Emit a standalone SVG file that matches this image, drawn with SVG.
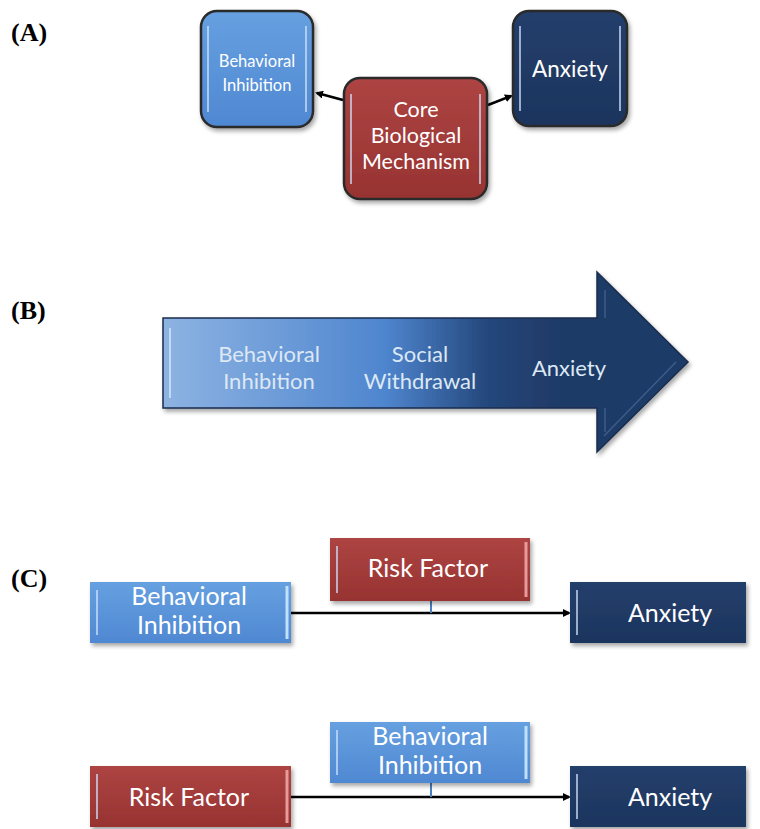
<svg xmlns="http://www.w3.org/2000/svg" width="760" height="829" viewBox="0 0 760 829">
<defs>
<style>
.lbl{font-family:"Liberation Serif","Times New Roman",serif;font-weight:bold;font-size:26px;fill:#000}
.t{font-family:Lato,"Liberation Sans",sans-serif;fill:#fff;text-anchor:middle}
.tb{font-family:Lato,"Liberation Sans",sans-serif;fill:#dde8f5;text-anchor:middle;font-size:22px}
.hl{stroke:#cfe3fb;stroke-width:2;stroke-opacity:0.7;fill:none}
.conn{stroke:#000;stroke-width:2.5;fill:none}
</style>
<filter id="sh" x="-10%" y="-10%" width="130%" height="130%">
<feDropShadow dx="2" dy="3" stdDeviation="2" flood-color="#000" flood-opacity="0.35"/>
</filter>
<linearGradient id="gB" x1="0" y1="0" x2="1" y2="0">
<stop offset="0" stop-color="#8db3e2"/>
<stop offset="0.42" stop-color="#4f86cf"/>
<stop offset="0.62" stop-color="#24477c"/>
<stop offset="0.75" stop-color="#1f3a66"/>
<stop offset="1" stop-color="#1f3a66"/>
</linearGradient>
<linearGradient id="gLB" x1="0" y1="0" x2="0" y2="1">
<stop offset="0" stop-color="#66a0e0"/>
<stop offset="1" stop-color="#4f88d2"/>
</linearGradient>
<linearGradient id="gR" x1="0" y1="0" x2="0" y2="1">
<stop offset="0" stop-color="#ad4443"/>
<stop offset="1" stop-color="#973331"/>
</linearGradient>
<linearGradient id="gN" x1="0" y1="0" x2="0" y2="1">
<stop offset="0" stop-color="#243f6b"/>
<stop offset="1" stop-color="#1c355e"/>
</linearGradient>
<marker id="ah" markerWidth="8" markerHeight="8" refX="6" refY="4" orient="auto" markerUnits="userSpaceOnUse">
<path d="M0,0 L8,4 L0,8 Z" fill="#000"/>
</marker>
</defs>
<rect width="760" height="829" fill="#fff"/>

<text class="lbl" x="11" y="41">(A)</text>
<text class="lbl" x="11" y="319">(B)</text>
<text class="lbl" x="11" y="587">(C)</text>

<g id="connectors">
<line class="conn" x1="343" y1="100" x2="317" y2="93" marker-end="url(#ah)"/>
<line class="conn" x1="488" y1="105" x2="511" y2="96" marker-end="url(#ah)"/>
<line class="conn" x1="291" y1="613" x2="569" y2="613" marker-end="url(#ah)"/>
<line x1="431" y1="601" x2="431" y2="613" stroke="#4a7fc0" stroke-width="2"/>
<line class="conn" x1="291" y1="797" x2="569" y2="797" marker-end="url(#ah)"/>
<line x1="431" y1="783" x2="431" y2="797" stroke="#4a7fc0" stroke-width="2"/>
</g>

<g id="a-bi">
<rect x="201" y="11" width="112" height="116" rx="16" fill="url(#gLB)" stroke="#2b2b2b" stroke-width="2.5" filter="url(#sh)"/>
<line class="hl" x1="208" y1="26" x2="208" y2="112"/>
<line class="hl" x1="306" y1="26" x2="306" y2="112"/>
<text class="t" font-size="16.5" x="257" y="67">Behavioral</text>
<text class="t" font-size="16.5" x="257" y="91">Inhibition</text>
</g>
<g id="a-core">
<rect x="344" y="78" width="143" height="121" rx="16" fill="url(#gR)" stroke="#2b2b2b" stroke-width="2.5" filter="url(#sh)"/>
<line class="hl" x1="351" y1="94" x2="351" y2="184" stroke="#f0b0b0"/>
<line class="hl" x1="480" y1="94" x2="480" y2="184" stroke="#f0b0b0"/>
<text class="t" font-size="21.5" x="416" y="117">Core</text>
<text class="t" font-size="21.5" x="416" y="143">Biological</text>
<text class="t" font-size="21.5" x="416" y="169">Mechanism</text>
</g>
<g id="a-anx">
<rect x="513" y="11" width="114" height="115" rx="16" fill="url(#gN)" stroke="#2b2b2b" stroke-width="2.5" filter="url(#sh)"/>
<line class="hl" x1="520" y1="26" x2="520" y2="111" stroke="#6f8fbf"/>
<line class="hl" x1="620" y1="26" x2="620" y2="111" stroke="#6f8fbf"/>
<text class="t" font-size="22.5" x="570" y="77">Anxiety</text>
</g>

<g id="b-arrow">
<path d="M163,318 L597,318 L597,272 L688,362 L597,452 L597,408 L163,408 Z" fill="url(#gB)" stroke="#1a2d4d" stroke-width="1.5" filter="url(#sh)"/>
<line x1="170" y1="328" x2="170" y2="398" stroke="#cfe3fb" stroke-width="2" stroke-opacity="0.8"/>
<path d="M605,290 L605,318 M605,408 L605,432 M604,436 L676,362" stroke="#4a6a9a" stroke-width="1.5" fill="none" stroke-opacity="0.7"/>
<text class="tb" x="269" y="362">Behavioral</text>
<text class="tb" x="269" y="389">Inhibition</text>
<text class="tb" x="420" y="362">Social</text>
<text class="tb" x="420" y="389">Withdrawal</text>
<text class="tb" x="569" y="376">Anxiety</text>
</g>

<g id="c1-bi">
<rect x="90" y="582" width="201" height="61" fill="url(#gLB)" filter="url(#sh)"/>
<line class="hl" x1="97" y1="590" x2="97" y2="635"/>
<line x1="287" y1="586" x2="287" y2="639" stroke="#bfe0ff" stroke-width="3"/>
<text class="t" font-size="25" x="189" y="605">Behavioral</text>
<text class="t" font-size="25" x="189" y="634">Inhibition</text>
</g>
<g id="c1-risk">
<rect x="330" y="538" width="200" height="63" fill="url(#gR)" filter="url(#sh)"/>
<line class="hl" x1="337" y1="546" x2="337" y2="593" stroke="#f0b0b0"/>
<line x1="526" y1="542" x2="526" y2="597" stroke="#e89a9a" stroke-width="3"/>
<text class="t" font-size="25" x="428" y="577">Risk Factor</text>
</g>
<g id="c1-anx">
<rect x="570" y="582" width="176" height="61" fill="url(#gN)" filter="url(#sh)"/>
<line class="hl" x1="577" y1="590" x2="577" y2="635" stroke="#6f8fbf"/>
<text class="t" font-size="25" x="670" y="622">Anxiety</text>
</g>

<g id="c2-bi">
<rect x="330" y="722" width="200" height="61" fill="url(#gLB)" filter="url(#sh)"/>
<line class="hl" x1="337" y1="730" x2="337" y2="775"/>
<line x1="526" y1="726" x2="526" y2="779" stroke="#bfe0ff" stroke-width="3"/>
<text class="t" font-size="25" x="430" y="745">Behavioral</text>
<text class="t" font-size="25" x="430" y="774">Inhibition</text>
</g>
<g id="c2-risk">
<rect x="90" y="766" width="201" height="61" fill="url(#gR)" filter="url(#sh)"/>
<line class="hl" x1="97" y1="774" x2="97" y2="819" stroke="#f0b0b0"/>
<line x1="287" y1="770" x2="287" y2="823" stroke="#e89a9a" stroke-width="3"/>
<text class="t" font-size="25" x="189" y="806">Risk Factor</text>
</g>
<g id="c2-anx">
<rect x="570" y="766" width="176" height="61" fill="url(#gN)" filter="url(#sh)"/>
<line class="hl" x1="577" y1="774" x2="577" y2="819" stroke="#6f8fbf"/>
<text class="t" font-size="25" x="670" y="806">Anxiety</text>
</g>
</svg>
